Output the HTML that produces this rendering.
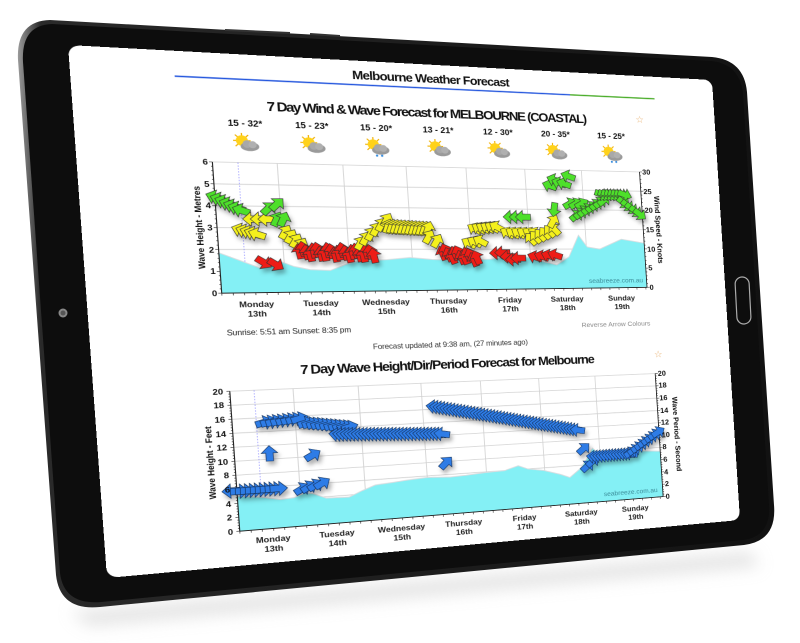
<!DOCTYPE html>
<html><head><meta charset="utf-8">
<style>
html,body{margin:0;padding:0;background:#fff;width:800px;height:643px;overflow:hidden;}
#bg{position:absolute;left:0;top:0;}
#scr{position:absolute;left:0;top:0;width:644px;height:533px;transform-origin:0 0;
transform:matrix3d(1.23484,0.080730,0,0.00032984, 0.074773,1.008649,0,0.000014976, 0,0,1,0, 68,45,0,1);
background:#fff;border-radius:10px;overflow:hidden;}
text{font-family:"Liberation Sans",Arial,sans-serif;}
</style></head>
<body>
<svg id="bg" width="800" height="643" viewBox="0 0 800 643">
<defs>
<filter id="blur" x="-20%" y="-50%" width="140%" height="200%"><feGaussianBlur stdDeviation="8"/></filter>
<linearGradient id="edge" x1="0" y1="0" x2="1" y2="0">
<stop offset="0" stop-color="#9a9a9a"/><stop offset="0.03" stop-color="#2a2a2a"/><stop offset="1" stop-color="#121212"/></linearGradient>
</defs>
<path d="M70,612 L750,552 L760,566 L90,626 Z" fill="#d0d0d0" filter="url(#blur)" opacity="0.6"/>
<path d="M50,20 L712,57 Q744,60 747,92 L774,505 Q777,541 744,545 L100,607 Q60,611 56,575 L18,60 Q16,21 50,20 Z" fill="url(#edge)"/>
<path d="M52,24 L711,61 Q740,64 743,94 L769,505 Q771,537 742,540 L101,602 Q64,605 60,573 L23,62 Q21,25 52,24 Z" fill="#0d0d0d"/>
<path d="M225,30 L290,33" stroke="#333" stroke-width="2"/>
<path d="M310,34 L340,36" stroke="#333" stroke-width="2"/>
<circle cx="63" cy="313" r="4.5" fill="#888"/><circle cx="63" cy="313" r="2.5" fill="#555"/>
<rect x="736" y="277" width="14" height="47" rx="7" fill="none" stroke="#aaa" stroke-width="1.2" transform="rotate(-3 743 300)"/>
</svg>

<div id="scr">
<svg id="s" width="644" height="533" viewBox="0 0 644 533">
<defs>
<filter id="sh" x="-10%" y="-20%" width="130%" height="160%"><feDropShadow dx="2" dy="4" stdDeviation="2" flood-color="#000" flood-opacity="0.3"/></filter>
<g id="icon">
<g stroke="#f0b000" stroke-width="1.2">
<line x1="-5" y1="-13" x2="-5" y2="3"/><line x1="-13" y1="-5" x2="3" y2="-5"/>
<line x1="-11" y1="-11" x2="1" y2="1"/><line x1="-11" y1="1" x2="1" y2="-11"/>
</g>
<circle cx="-5" cy="-5" r="5.5" fill="#ffd21a"/>
<ellipse cx="2" cy="1" rx="8.5" ry="4.8" fill="#9a9a9a"/>
<circle cx="-0.5" cy="-1.5" r="4" fill="#a8a8a8"/><circle cx="4.5" cy="-1" r="3.8" fill="#b0b0b0"/>
</g>
</defs>

<text x="253" y="20" font-size="13" font-weight="bold" textLength="160" fill="#111">Melbourne Weather Forecast</text>
<line x1="89" y1="26" x2="478" y2="26" stroke="#2255dd" stroke-width="1.5"/>
<line x1="478" y1="26" x2="574" y2="26" stroke="#44aa22" stroke-width="1.5"/>

<text x="170" y="58" font-size="14" font-weight="bold" textLength="325" fill="#111">7 Day Wind &amp; Wave Forecast for MELBOURNE (COASTAL)</text>
<text x="555" y="55" font-size="11" fill="#e8b070" text-anchor="middle">☆</text>

<g font-size="9" font-weight="bold" fill="#111" text-anchor="middle">
<text x="149" y="75">15 - 32*</text><text x="211" y="75">15 - 23*</text><text x="273" y="75">15 - 20*</text>
<text x="335" y="75">13 - 21*</text><text x="397" y="75">12 - 30*</text><text x="459" y="75">20 - 35*</text><text x="521" y="75">15 - 25*</text>
</g>
<g>
<use href="#icon" x="150" y="95"/><use href="#icon" x="212" y="95"/><use href="#icon" x="274" y="95"/>
<use href="#icon" x="336" y="95"/><use href="#icon" x="398" y="95"/><use href="#icon" x="460" y="95"/><use href="#icon" x="522" y="95"/>
</g>
<g fill="#3a8fe0"><circle cx="272" cy="102" r="1.2"/><circle cx="277" cy="102" r="1.2"/><circle cx="520" cy="102" r="1.2"/><circle cx="525" cy="102" r="1.2"/></g>

<g id="c1"></g>

<g font-size="8.5" font-weight="bold" fill="#111" text-anchor="end">
<text x="113" y="252">0</text><text x="113" y="229">1</text><text x="113" y="207">2</text><text x="113" y="184">3</text>
<text x="113" y="161">4</text><text x="113" y="139">5</text><text x="113" y="116">6</text>
</g>
<g font-size="8.5" font-weight="bold" fill="#111">
<text x="554" y="252">0</text><text x="554" y="229">5</text><text x="554" y="207">10</text><text x="554" y="184">15</text>
<text x="554" y="161">20</text><text x="554" y="139">25</text><text x="554" y="116">30</text>
</g>
<text transform="translate(104,181) rotate(-90)" font-size="8.5" font-weight="bold" text-anchor="middle" fill="#111">Wave Height - Metres</text>
<text transform="translate(566,181) rotate(90)" font-size="8.5" font-weight="bold" text-anchor="middle" fill="#111">Wind Speed - Knots</text>
<text x="547" y="243" font-size="7.5" text-anchor="end" fill="#3b8c98">seabreeze.com.au</text>
<g font-size="8.5" font-weight="bold" fill="#222" text-anchor="middle">
<text x="148" y="264">Monday</text><text x="148" y="274">13th</text>
<text x="208" y="264">Tuesday</text><text x="208" y="274">14th</text>
<text x="271" y="264">Wednesday</text><text x="271" y="274">15th</text>
<text x="334" y="264">Thursday</text><text x="334" y="274">16th</text>
<text x="398" y="264">Friday</text><text x="398" y="274">17th</text>
<text x="460" y="264">Saturday</text><text x="460" y="274">18th</text>
<text x="521" y="264">Sunday</text><text x="521" y="274">19th</text>
</g>
<text x="119" y="293" font-size="8" textLength="116" fill="#222">Sunrise: 5:51 am  Sunset: 8:35 pm</text>
<text x="552" y="294" font-size="7.5" text-anchor="end" textLength="78" fill="#888">Reverse Arrow Colours</text>
<text x="255" y="312" font-size="8" textLength="159" fill="#333">Forecast updated at 9:38 am, (27 minutes ago)</text>

<text x="184" y="336" font-size="14" font-weight="bold" textLength="302" fill="#111">7 Day Wave Height/Dir/Period Forecast for Melbourne</text>
<text x="559" y="332" font-size="11" fill="#e8b070" text-anchor="middle">☆</text>

<g id="c2"></g>

<g font-size="8.5" font-weight="bold" fill="#111" text-anchor="end">
<text x="112" y="500">0</text><text x="112" y="485">2</text><text x="112" y="471">4</text><text x="112" y="456">6</text>
<text x="112" y="441">8</text><text x="112" y="427">10</text><text x="112" y="412">12</text><text x="112" y="398">14</text>
<text x="112" y="383">16</text><text x="112" y="368">18</text><text x="112" y="354">20</text>
</g>
<g font-size="8.5" font-weight="bold" fill="#111">
<text x="557" y="500">0</text><text x="557" y="485">2</text><text x="557" y="471">4</text><text x="557" y="456">6</text>
<text x="557" y="441">8</text><text x="557" y="427">10</text><text x="557" y="412">12</text><text x="557" y="398">14</text>
<text x="557" y="383">16</text><text x="557" y="368">18</text><text x="557" y="354">20</text>
</g>
<text transform="translate(99,424) rotate(-90)" font-size="8.5" font-weight="bold" text-anchor="middle" fill="#111">Wave Height - Feet</text>
<text transform="translate(572,424) rotate(90)" font-size="8.5" font-weight="bold" text-anchor="middle" fill="#111">Wave Period - Second</text>
<text x="548" y="491" font-size="7.5" text-anchor="end" fill="#3b8c98">seabreeze.com.au</text>
<g font-size="8.5" font-weight="bold" fill="#222" text-anchor="middle">
<text x="148" y="511">Monday</text><text x="148" y="521">13th</text>
<text x="208" y="511">Tuesday</text><text x="208" y="521">14th</text>
<text x="271" y="511">Wednesday</text><text x="271" y="521">15th</text>
<text x="334" y="511">Thursday</text><text x="334" y="521">16th</text>
<text x="398" y="511">Friday</text><text x="398" y="521">17th</text>
<text x="460" y="511">Saturday</text><text x="460" y="521">18th</text>
<text x="521" y="511">Sunday</text><text x="521" y="521">19th</text>
</g>
</svg>
</div>

<script>
var NS="http://www.w3.org/2000/svg";
function el(p,t,a){var e=document.createElementNS(NS,t);for(var k in a)e.setAttribute(k,a[k]);p.appendChild(e);return e;}
var GX=[176,238,300,361,423,485];
function chart(g,x0,x1,yTop,yBot,nh,area,maxv,arrows,col,stroke){
  var sc=(yBot-yTop)/maxv;
  el(g,"rect",{x:x0,y:yTop,width:x1-x0,height:yBot-yTop,fill:"#fff"});
  for(var i=0;i<=nh;i++){var y=yTop+(yBot-yTop)*i/nh;el(g,"line",{x1:x0,y1:y,x2:x1,y2:y,stroke:"#cfcfcf","stroke-width":0.8});}
  GX.forEach(function(x){el(g,"line",{x1:x,y1:yTop,x2:x,y2:yBot,stroke:"#cfcfcf","stroke-width":0.8});});
  el(g,"line",{x1:140,y1:yTop,x2:140,y2:yBot,stroke:"#8a8aff","stroke-width":0.6,"stroke-dasharray":"1.5,1.5"});
  var d="M"+x0+","+yBot;
  area.forEach(function(p){d+=" L"+p[0]+","+(yBot-p[1]*sc).toFixed(1);});
  d+=" L"+x1+","+yBot+" Z";
  el(g,"path",{d:d,fill:"#84f0f5",stroke:"#d8dde0","stroke-width":1});
  el(g,"line",{x1:x0,y1:yTop,x2:x0,y2:yBot,stroke:"#222","stroke-width":1});
  el(g,"line",{x1:x1,y1:yTop,x2:x1,y2:yBot,stroke:"#222","stroke-width":1});
  el(g,"line",{x1:x0,y1:yBot,x2:x1,y2:yBot,stroke:"#222","stroke-width":1});
  for(var i=0;i<=nh*5;i++){var y=yTop+(yBot-yTop)*i/(nh*5);var L=(i%5==0)?3:1.5;
    el(g,"line",{x1:x0-L,y1:y,x2:x0,y2:y,stroke:"#222","stroke-width":0.6});
    el(g,"line",{x1:x1,y1:y,x2:x1+L,y2:y,stroke:"#222","stroke-width":0.6});}
  for(var x=x0;x<=x1;x+=10.3){el(g,"line",{x1:x,y1:yBot,x2:x,y2:yBot+2.5,stroke:"#222","stroke-width":0.6});}
  var ga=el(g,"g",{filter:"url(#sh)"});
  arrows.forEach(function(s){
    var n=s[4];
    for(var i=0;i<n;i++){
      var t=n>1?i/(n-1):0;var x=s[0]+(s[1]-s[0])*t;var v=s[2]+(s[3]-s[2])*t+(s[7]?Math.sin(i*1.7)*s[7]:0);
      var y=yBot-v*sc;
      el(ga,"polygon",{points:"-6,-2.6 0.5,-2.6 0.5,-5.8 6.5,0 0.5,5.8 0.5,2.6 -6,2.6",
        fill:s[6]||col,stroke:stroke,"stroke-width":0.45,transform:"translate("+x.toFixed(1)+","+y.toFixed(1)+") rotate("+s[5]+") scale(1.3)"});
    }
  });
}
var G="#4ee02a",Y="#f4f01e",R="#ee1a12";
var a1=[[117,140,22,19,7,-160,G],[138,153,14.5,13.5,5,-160,Y],[149,163,17,17,3,180,Y],
[157,168,7,6.5,2,35,R],[165,173,19.5,20.5,2,-45,G],[172,178,17,17,2,-65,G],
[179,193,14,11,4,-60,Y],[191,262,9.5,9,22,-100,R,0.6],[250,277,11.5,17,6,-60,Y],
[278,318,15.5,15,12,-70,Y],[318,326,13,12,2,-60,Y],[331,366,9,8,12,-110,R,0.7],
[359,371,11.5,12,3,-150,Y],[366,389,15,15.5,6,-150,Y],[388,410,9,7.5,5,180,R,0.5],
[400,430,14,14,6,-150,Y],[405,418,18,18,3,180,G],[425,451,12.5,15,6,-130,Y],
[428,450,8,8.5,4,-160,R],[450,450,17,17,1,-60,Y],[452,452,20,20,1,100,G],
[449,470,26,28,5,-160,G,1],[470,483,21.5,21.5,3,-30,G],[476,508,18.5,22.5,8,-40,G],
[506,532,24,24,8,20,G],[530,548,22,19,5,40,G]];
var w1=[[117,1.85],[135,1.5],[153,1.15],[165,1.35],[172,1.45],[185,1.2],[200,1.05],[219,1.0],[235,1.3],[248,1.45],[275,1.5],[298,1.6],[320,1.5],[348,1.45],[380,1.5],[411,1.7],[430,1.45],[451,1.2],[465,1.6],[477,2.7],[486,2.1],[500,2.0],[525,2.5],[551,2.3]];
chart(document.getElementById("c1"),117,551,113,249,6,w1,6,a1.map(function(s){s=s.slice();s[2]/=5;s[3]/=5;if(s[7])s[7]/=5;return s;}),G,"#333");
var B="#2d7be6";
var a2=[[113,113,5.8,5.8,1,180],[120,156,5.7,5.7,9,0],[150,150,10.8,10.8,1,-90],[147,180,15.3,15.6,8,-15],
[178,197,5.4,6,4,-30],[190,190,10.2,10.2,1,-30],[186,227,14.9,14,11,-15],[215,318,13,12.2,30,190],
[320,320,7.8,7.8,1,-45],[312,462,16.4,11.6,45,190],[467,467,8.6,8.6,1,-40],[470,476,5.8,6.5,2,-40],
[478,520,7.2,7.3,13,190],[520,553,7.5,10.5,9,-30]];
var w2=[[118,5.0],[140,4.6],[157,4.1],[170,4.2],[180,4.8],[188,4.6],[200,3.8],[222,3.7],[235,4.5],[248,5.2],[265,5.4],[280,5.6],[300,5.8],[323,5.6],[340,5.7],[360,5.9],[380,6.0],[395,6.6],[405,6.0],[422,5.6],[440,4.8],[450,4.2],[462,5.5],[470,7],[477,8.6],[485,7.5],[500,7.3],[520,7.8],[535,7.6],[554,7.4]];
chart(document.getElementById("c2"),118,554,351,497,10,w2,20,a2,B,"#12305a");
</script>
</body></html>
